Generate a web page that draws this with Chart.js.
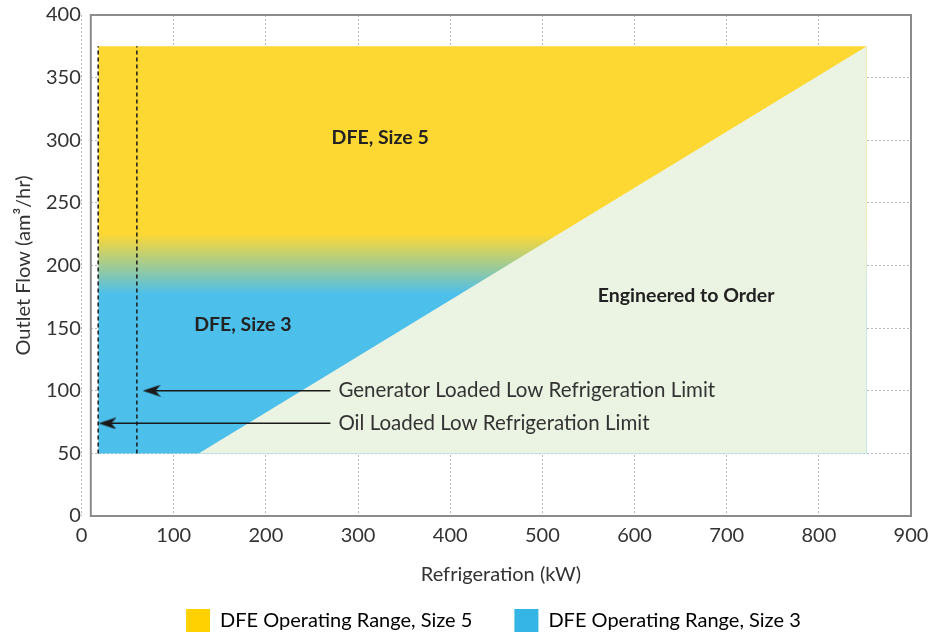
<!DOCTYPE html>
<html>
<head>
<meta charset="utf-8">
<script src="https://cdn.jsdelivr.net/npm/chart.js@4.4.1/dist/chart.umd.min.js"></script>
<style>
  html, body { margin: 0; padding: 0; background: #fff; }
</style>
</head>
<body>
<canvas id="myChart" width="943" height="636"></canvas>
<script>
//data block
const xTicks = [0, 100, 200, 300, 400, 500, 600, 700, 800, 900];

// operating range (size 5 over size 3), filled down to the 50 am3/hr floor
const rangeX = [18, 852];
const rangeY = [375, 375];
const rangeFloor = 50;

// engineered to order: below the diagonal
const etoX = [127, 852];
const etoY = [50, 375];

// low refrigeration limits (dashed verticals)
const oilLimitX = [18, 18];
const genLimitX = [60, 60];
const limitY = [50, 375];

// arrows pointing at the limits
const genArrowX = [76, 270];
const genArrowY = [100, 100];
const oilArrowX = [28, 270];
const oilArrowY = [74, 74];

const noteText = ['DFE, Size 5', 'DFE, Size 3', 'Engineered to Order'];
const noteX = [324, 175, 656];
const noteY = [302, 153, 176];

const limitText = ['Generator Loaded Low Refrigeration Limit', 'Oil Loaded Low Refrigeration Limit'];
const limitTextX = 270;
const limitTextY = [100, 74];

const legendText = ['DFE Operating Range, Size 5', 'DFE Operating Range, Size 3'];

//colours
const yellow = 'rgb(253, 216, 51)';
const blue = 'rgb(76, 191, 235)';
const green = 'rgb(235, 244, 226)';
const legendColors = ['rgb(255, 209, 0)', 'rgb(53, 181, 230)'];

const toPoints = (xs, ys) => xs.map((x, i) => ({x, y: ys[i]}));

// size 3 blends into size 5 between these flows
const blendFrom = 177;
const blendTo = 225;

function rangeFill(context) {
  const {chart} = context;
  const {ctx, chartArea, scales} = chart;
  if (!chartArea) return yellow;
  const g = ctx.createLinearGradient(0, scales.y.getPixelForValue(blendFrom), 0, scales.y.getPixelForValue(blendTo));
  g.addColorStop(0, blue);
  g.addColorStop(1, yellow);
  return g;
}

// notched arrow head, pointing left
const arrowHead = document.createElement('canvas');
arrowHead.width = 18;
arrowHead.height = 12;
(function () {
  const c = arrowHead.getContext('2d');
  c.fillStyle = '#1a1a1a';
  c.beginPath();
  c.moveTo(0, 6);
  c.lineTo(18, 0);
  c.lineTo(13, 6);
  c.lineTo(18, 12);
  c.closePath();
  c.fill();
})();

const lineDefaults = {showLine: true, borderColor: '#1a1a1a', borderWidth: 1.5, pointRadius: 0};

const data = {
  datasets: [
    {
      data: toPoints(rangeX, rangeY),
      showLine: true,
      fill: {value: rangeFloor},
      backgroundColor: rangeFill,
      borderColor: 'transparent',
      borderWidth: 0,
      pointRadius: 0,
      order: 5
    },
    {
      data: toPoints(etoX, etoY),
      showLine: true,
      fill: {value: rangeFloor},
      backgroundColor: green,
      borderColor: 'transparent',
      borderWidth: 0,
      pointRadius: 0,
      order: 4
    },
    {...lineDefaults, data: toPoints(oilLimitX, limitY), borderDash: [4, 3], order: 3},
    {...lineDefaults, data: toPoints(genLimitX, limitY), borderDash: [4, 3], order: 3},
    {...lineDefaults, data: toPoints(genArrowX, genArrowY), pointStyle: arrowHead, pointRadius: [9, 0], order: 2},
    {...lineDefaults, data: toPoints(oilArrowX, oilArrowY), pointStyle: arrowHead, pointRadius: [9, 0], order: 2}
  ]
};

//plugins
const plotBox = {
  id: 'plotBox',
  afterDraw(chart) {
    const {ctx, chartArea: {left, top, width, height}} = chart;
    ctx.save();
    ctx.strokeStyle = '#8c8c8c';
    ctx.lineWidth = 2;
    ctx.strokeRect(left, top, width, height);
    ctx.restore();
  }
};

const notes = {
  id: 'notes',
  afterDraw(chart) {
    const {ctx, scales: {x, y}} = chart;
    const bg = [yellow, blue, green];
    ctx.save();
    ctx.textBaseline = 'middle';

    ctx.font = 'bold 19.5px Lato';
    ctx.textAlign = 'center';
    noteText.forEach((t, i) => {
      const px = x.getPixelForValue(noteX[i]);
      const py = y.getPixelForValue(noteY[i]);
      const w = ctx.measureText(t).width;
      ctx.fillStyle = bg[i];
      ctx.fillRect(px - w / 2 - 8, py - 13, w + 16, 26);
      ctx.fillStyle = '#222';
      ctx.fillText(t, px, py);
    });

    ctx.font = '20.5px Lato';
    ctx.textAlign = 'left';
    limitText.forEach((t, i) => {
      const px = x.getPixelForValue(limitTextX);
      const py = y.getPixelForValue(limitTextY[i]);
      const w = ctx.measureText(t).width;
      ctx.fillStyle = green;
      ctx.fillRect(px + 2, py - 13, w + 12, 26);
      ctx.fillStyle = '#333';
      ctx.fillText(t, px + 8, py);
    });
    ctx.restore();
  }
};

//options block
const options = {
  responsive: false,
  animation: false,
  layout: {
    padding: {left: 2, right: 32, top: 15, bottom: 0}
  },
  plugins: {
    legend: {
      position: 'bottom',
      fullSize: false,
      maxHeight: 39,
      onClick: null,
      labels: {
        boxWidth: 24,
        boxHeight: 23,
        padding: 12,
        color: '#333',
        font: {family: 'Lato', size: 20},
        // em spaces widen the gap between the entries and nudge the row left
        generateLabels: () => legendText.map((t, i) => ({
          text: t + (i === 0 ? '\u2003\u2003' : '\u2003'),
          fillStyle: legendColors[i],
          strokeStyle: legendColors[i],
          lineWidth: 0,
          hidden: false,
          datasetIndex: i
        }))
      }
    },
    tooltip: {enabled: false}
  },
  scales: {
    x: {
      type: 'linear',
      min: 10,
      max: 900,
      z: 1,
      afterBuildTicks: (axis) => { axis.ticks = xTicks.map(v => ({value: v})); },
      grid: {color: '#b8b8b8', drawTicks: false},
      border: {display: false, dash: [2, 2]},
      ticks: {autoSkip: false, maxRotation: 0, padding: 8, color: '#333', font: {family: 'Lato', size: 20}},
      title: {
        display: true,
        text: 'Refrigeration (kW)',
        color: '#333',
        font: {family: 'Lato', size: 20},
        padding: {top: 7, bottom: 10}
      }
    },
    y: {
      min: 0,
      max: 400,
      z: 1,
      // let the plot box sit close to the top edge
      afterFit: (scale) => { scale.paddingTop = 0; },
      grid: {color: '#b8b8b8', drawTicks: false},
      border: {display: false, dash: [2, 2]},
      ticks: {stepSize: 50, padding: 10, color: '#333', font: {family: 'Lato', size: 20}},
      title: {
        display: true,
        text: 'Outlet Flow (am³/hr)',
        color: '#333',
        font: {family: 'Lato', size: 20},
        padding: {top: 10, bottom: 0}
      }
    }
  }
};

//config block
const config = {
  type: 'scatter',
  data,
  options,
  plugins: [plotBox, notes]
};

//render block
const myChart = new Chart(
  document.getElementById('myChart'),
  config
);
</script>
</body>
</html>
